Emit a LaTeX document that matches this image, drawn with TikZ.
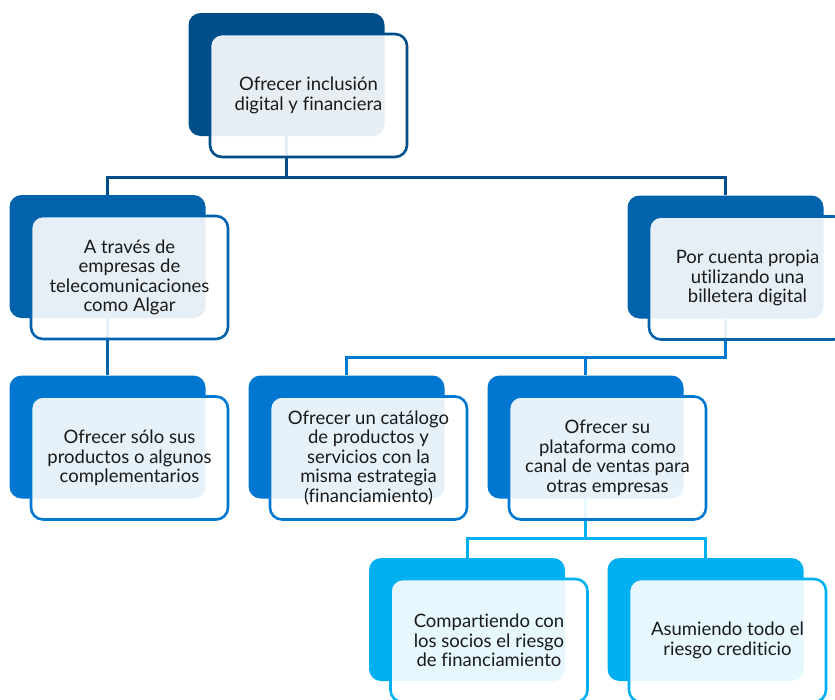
\documentclass[tikz,border=0pt]{standalone}
\usepackage{fontspec}
\setmainfont{Lato}[Ligatures=NoCommon]
\definecolor{cZero}{HTML}{004E89}
\definecolor{cOne}{HTML}{0063AC}
\definecolor{cTwo}{HTML}{0078D2}
\definecolor{cThree}{HTML}{00B0F0}
\definecolor{txt}{HTML}{1A1A1A}
\begin{document}
\begin{tikzpicture}[x=1pt,y=-1pt,
  backbox/.style={rounded corners=12pt, minimum width=196pt, minimum height=123pt, inner sep=0pt, fill=#1},
  frontbox/.style={rounded corners=12pt, minimum width=197pt, minimum height=123pt, inner sep=0pt,
    draw=#1, line width=2.6pt, fill=white, fill opacity=0.9, text opacity=1, align=center,
    text=txt, font=\fontsize{18.5}{19.5}\selectfont},
  conn/.style={draw=#1, line width=3pt}]
\useasboundingbox (0,0) rectangle (835,699);
\clip (0,0) rectangle (835,699);
% back boxes
\node[backbox=cZero] (b0) at (286.5,74.5) {};
\node[backbox=cOne] (b1a) at (107.5,256.5) {};
\node[backbox=cOne] (b1b) at (725.5,257) {};
\node[backbox=cTwo] (b2a) at (107.5,437) {};
\node[backbox=cTwo] (b2b) at (346.5,437) {};
\node[backbox=cTwo] (b2c) at (585.5,437) {};
\node[backbox=cThree] (b3a) at (467,619.5) {};
\node[backbox=cThree] (b3b) at (705.5,619.5) {};
% connectors
\draw[conn=cZero] (b0.south) -- ++(0,41) coordinate (j0) -| (b1a.north);
\draw[conn=cZero] (j0) -| (b1b.north);
\draw[conn=cOne] (b1a.south) -- (b2a.north);
\draw[conn=cTwo] (b1b.south) -- ++(0,39) coordinate (j1) -| (b2b.north);
\draw[conn=cTwo] (j1) -| (b2c.north);
\draw[conn=cThree] (b2c.south) -- ++(0,40) coordinate (j2) -| (b3a.north);
\draw[conn=cThree] (j2) -| (b3b.north);
% front boxes
\node[frontbox=cZero] (f0) at ([shift={(22,21)}]b0.center) {Ofrecer inclusión\\digital y financiera};
\node[frontbox=cOne] (f1a) at ([shift={(22,21)}]b1a.center) {A través de\\empresas de\\telecomunicaciones\\como Algar};
\node[frontbox=cOne] (f1b) at ([shift={(22,21)}]b1b.center) {Por cuenta propia\\utilizando una\\billetera digital};
\node[frontbox=cTwo] (f2a) at ([shift={(22,21)}]b2a.center) {Ofrecer sólo sus\\productos o algunos\\complementarios};
\node[frontbox=cTwo] (f2b) at ([shift={(22,21)}]b2b.center) {Ofrecer un catálogo\\de productos y\\servicios con la\\misma estrategia\\(financiamiento)};
\node[frontbox=cTwo] (f2c) at ([shift={(22,21)}]b2c.center) {Ofrecer su\\plataforma como\\canal de ventas para\\otras empresas};
\node[frontbox=cThree] (f3a) at ([shift={(22,21)}]b3a.center) {Compartiendo con\\los socios el riesgo\\de financiamiento};
\node[frontbox=cThree] (f3b) at ([shift={(22,21)}]b3b.center) {Asumiendo todo el\\riesgo crediticio};
\end{tikzpicture}
\end{document}
